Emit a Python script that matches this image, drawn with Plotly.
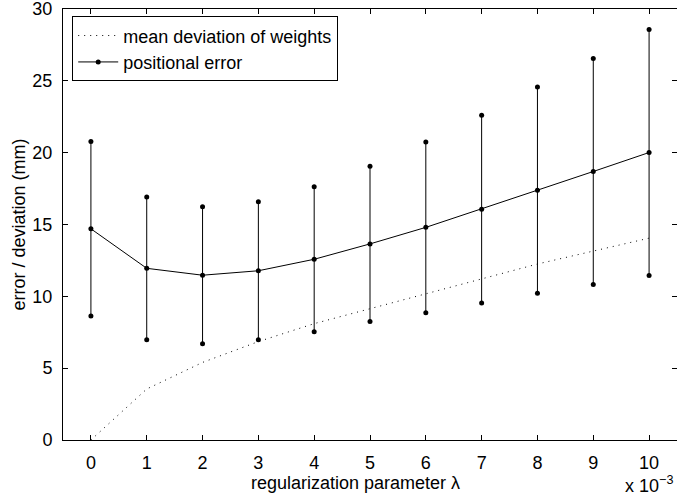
import plotly.graph_objects as go

# regularization parameter (units of 1e-3)
lam = [0, 1, 2, 3, 4, 5, 6, 7, 8, 9, 10]

# mean deviation of the weights (mm)
weight_dev = [0.0, 3.55, 5.4, 6.85, 8.1, 9.15, 10.2, 11.25, 12.25, 13.15, 14.05]

# positional error: mean and standard deviation (mm)
pos_err_mean = [14.7, 11.95, 11.47, 11.78, 12.58, 13.65, 14.8, 16.07, 17.39, 18.69, 20.01]
pos_err_std = [6.07, 4.97, 4.77, 4.81, 5.04, 5.41, 5.94, 6.54, 7.18, 7.86, 8.56]

FONT = "Liberation Sans, Arial, Helvetica, sans-serif"

fig = go.Figure()

fig.add_trace(go.Scatter(
    x=lam, y=weight_dev, mode="lines",
    name="mean deviation of weights",
    line=dict(color="black", width=1, dash="1px,5px"),
))

fig.add_trace(go.Scatter(
    x=lam, y=pos_err_mean, mode="lines+markers",
    name="positional error",
    line=dict(color="black", width=1),
    marker=dict(color="black", size=5),
    error_y=dict(type="data", array=pos_err_std, symmetric=True,
                 color="black", thickness=1, width=0),
))

# dots at the ends of each error bar
ends_x = lam + lam
ends_y = ([m + s for m, s in zip(pos_err_mean, pos_err_std)] +
          [m - s for m, s in zip(pos_err_mean, pos_err_std)])
fig.add_trace(go.Scatter(
    x=ends_x, y=ends_y, mode="markers", showlegend=False,
    marker=dict(color="black", size=5),
))

axis_common = dict(
    showline=True, linecolor="black", linewidth=1, mirror="ticks",
    ticks="inside", ticklen=5, tickcolor="black", tickwidth=1,
    showgrid=False, zeroline=False, ticklabeloverflow="allow",
    tickfont=dict(family=FONT, size=18, color="black"),
)

fig.update_xaxes(range=[-0.5, 10.5], tickmode="array", tickvals=lam,
                 ticklabelstandoff=6, **axis_common)
fig.update_yaxes(range=[0, 30], tickmode="array",
                 tickvals=[0, 5, 10, 15, 20, 25, 30], ticklabelstandoff=6,
                 title=dict(text="error / deviation (mm)",
                            font=dict(family=FONT, size=18, color="black"),
                            standoff=2),
                 **axis_common)

fig.add_annotation(
    text="regularization parameter λ", xref="paper", yref="paper",
    x=0.4756, y=0, yshift=-43, xanchor="center", yanchor="middle",
    showarrow=False, font=dict(family=FONT, size=18, color="black"),
)
fig.add_annotation(
    text="x 10<sup>−3</sup>", xref="paper", yref="paper",
    x=1, y=0, xshift=-2, yshift=-44, xanchor="right", yanchor="middle",
    showarrow=False, font=dict(family=FONT, size=18, color="black"),
)

fig.update_layout(
    width=677, height=495,
    margin=dict(l=63, r=0, t=9, b=55),
    plot_bgcolor="white", paper_bgcolor="white",
    font=dict(family=FONT, size=18, color="black"),
    legend=dict(
        x=0.015, y=0.983, xanchor="left", yanchor="top",
        bgcolor="white", bordercolor="black", borderwidth=1,
        font=dict(family=FONT, size=18, color="black"),
        tracegroupgap=0, itemwidth=40,
    ),
    showlegend=True,
)

fig.write_html("out.html")
